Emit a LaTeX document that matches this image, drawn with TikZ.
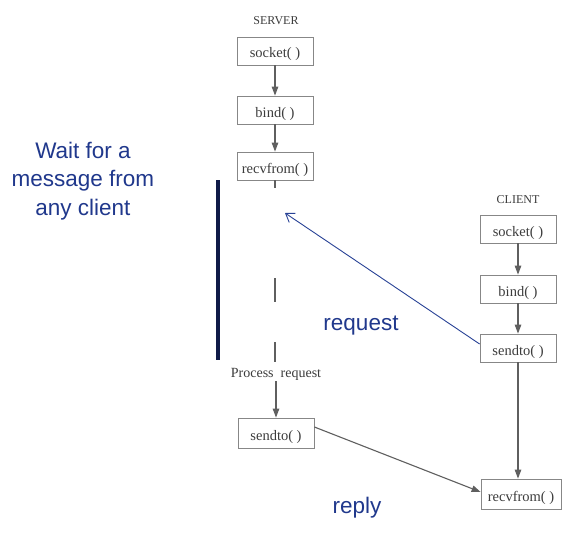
\documentclass[tikz,border=0pt]{standalone}
\usepackage{fontspec}
\setmainfont{Liberation Serif}
\newfontfamily\bluesans{Liberation Sans}
\usetikzlibrary{arrows.meta}
\definecolor{boxgray}{RGB}{135,135,135}
\definecolor{linegray}{RGB}{95,95,95}
\definecolor{txtgray}{RGB}{60,60,60}
\definecolor{bluetxt}{RGB}{32,56,140}
\definecolor{barblue}{RGB}{16,26,72}
\definecolor{reqblue}{RGB}{40,66,150}
\begin{document}
\begin{tikzpicture}[x=1pt,y=-1pt,
  fbox/.style={draw=boxgray, line width=0.8pt, minimum width=76pt, minimum height=28pt, inner sep=0pt, text=txtgray, font=\fontsize{14.5}{16}\selectfont, text height=14pt, text depth=0pt},
  plainlbl/.style={text=txtgray, inner sep=1pt, font=\fontsize{14}{16}\selectfont},
  headlbl/.style={text=txtgray, inner sep=1pt, font=\fontsize{12}{14}\selectfont},
  flow/.style={draw=linegray, line width=1.1pt, -{Triangle[length=9pt,width=6.5pt]}},
  stub/.style={draw=linegray, line width=1.1pt},
  bluelbl/.style={text=bluetxt, inner sep=0pt, font=\bluesans\fontsize{22.5}{28.5}\selectfont, align=center},
  reqarrow/.style={draw=reqblue, line width=0.9pt, -{Straight Barb[length=8pt,width=11pt]}}
]
\useasboundingbox[fill=white] (0,0) rectangle (572,535);

% server
\node[headlbl] (slabel) at (276,21) {SERVER};
\node[fbox] (ssock) at (275,51) {socket( )};
\node[fbox] (sbind) at (275,110) {bind( )};
\node[fbox] (srecv) at (275,166) {recvfrom( )};
\node[plainlbl] (proc) at (276,374) {Process\ \ request};
\node[fbox, minimum height=30pt] (ssend) at (276,433) {sendto( )};

\draw[flow] (ssock) -- (sbind);
\draw[flow] (sbind) -- (srecv);
\coordinate (st1) at (275,188);
\coordinate (d1a) at (275,278);
\coordinate (d1b) at (275,302);
\coordinate (d2a) at (275,342);
\coordinate (d2b) at (275,362);
\draw[stub] (srecv.south) -- (st1);
\draw[stub] (d1a) -- (d1b);
\draw[stub] (d2a) -- (d2b);
\draw[flow] (proc.south -| ssend) -- (ssend.north);

% client
\node[headlbl] (clabel) at (518,200) {CLIENT};
\node[fbox] (csock) at (518,229) {socket( )};
\node[fbox] (cbind) at (518,289) {bind( )};
\node[fbox] (csend) at (518,348) {sendto( )};
\node[fbox, minimum width=80pt, minimum height=30pt] (crecv) at (521,494) {recvfrom( )};

\draw[flow] (csock) -- (cbind);
\draw[flow] (cbind) -- (csend);
\draw[flow] (csend.south) -- (csend.south |- crecv.north);

% messages
\coordinate (reqend) at (285,213);
\draw[reqarrow] ([yshift=4pt]csend.west) -- (reqend);
\draw[flow] ([yshift=6pt]ssend.east) -- ([yshift=2pt]crecv.west);

\node[bluelbl] (req) at (361,326) {request};
\node[bluelbl] (rep) at (357,508) {reply};
\node[bluelbl] (wait) at (83,181) {Wait for a\\message from\\any client};

\draw[barblue, line width=4pt] (218,180) -- (218,360);
\end{tikzpicture}
\end{document}
